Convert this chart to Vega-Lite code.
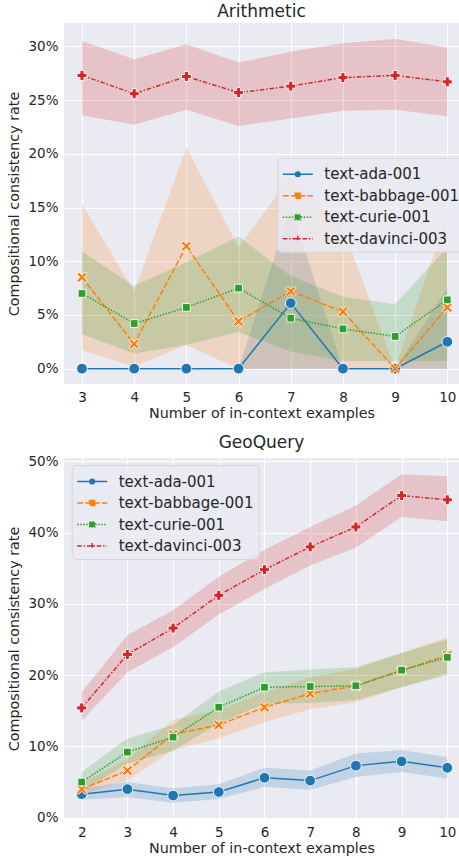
{
  "$schema": "https://vega.github.io/schema/vega-lite/v6.json",
  "padding": {"left": 7, "top": 3, "right": 0, "bottom": 0},
  "background": "white",
  "spacing": 13,
  "config": {
    "font": "DejaVu Sans",
    "view": {"fill": "#EAEAF2", "stroke": null},
    "axis": {
      "domain": false, "ticks": false, "grid": true, "gridColor": "white", "gridWidth": 1.2,
      "labelFont": "DejaVu Sans", "labelFontSize": 13.5, "labelColor": "#262626", "labelPadding": 6,
      "titleFont": "DejaVu Sans", "titleFontSize": 14.3, "titleFontWeight": "normal", "titleColor": "#262626"
    },
    "axisY": {"titlePadding": 6},
    "axisX": {"titlePadding": 3},
    "title": {"font": "DejaVu Sans", "fontSize": 17, "fontWeight": "normal", "color": "#262626", "offset": 2},
    "legend": {
      "labelFont": "DejaVu Sans", "labelFontSize": 15, "labelColor": "#262626", "labelLimit": 300,
      "padding": 5, "rowPadding": 1.5, "symbolSize": 441, "symbolOffset": 4, "labelOffset": 15,
      "fillColor": "rgba(234,234,242,0.8)", "strokeColor": "#d4d4da", "cornerRadius": 4
    }
  },
  "datasets": {
    "d": [
      {"task": "Arithmetic", "model": "text-ada-001", "n": 3, "rate": 0, "lo": 0, "hi": 0},
      {"task": "Arithmetic", "model": "text-ada-001", "n": 4, "rate": 0, "lo": 0, "hi": 0},
      {"task": "Arithmetic", "model": "text-ada-001", "n": 5, "rate": 0, "lo": 0, "hi": 0},
      {"task": "Arithmetic", "model": "text-ada-001", "n": 6, "rate": 0, "lo": 0, "hi": 0},
      {"task": "Arithmetic", "model": "text-ada-001", "n": 7, "rate": 6.1, "lo": 0, "hi": 15.1},
      {"task": "Arithmetic", "model": "text-ada-001", "n": 8, "rate": 0, "lo": 0, "hi": 0},
      {"task": "Arithmetic", "model": "text-ada-001", "n": 9, "rate": 0, "lo": 0, "hi": 0},
      {"task": "Arithmetic", "model": "text-ada-001", "n": 10, "rate": 2.5, "lo": 0, "hi": 7.5},
      {"task": "Arithmetic", "model": "text-babbage-001", "n": 3, "rate": 8.5, "lo": 1.7, "hi": 15.3},
      {"task": "Arithmetic", "model": "text-babbage-001", "n": 4, "rate": 2.3, "lo": 0.2, "hi": 7.2},
      {"task": "Arithmetic", "model": "text-babbage-001", "n": 5, "rate": 11.4, "lo": 2.2, "hi": 20.6},
      {"task": "Arithmetic", "model": "text-babbage-001", "n": 6, "rate": 4.4, "lo": 0, "hi": 11.3},
      {"task": "Arithmetic", "model": "text-babbage-001", "n": 7, "rate": 7.2, "lo": 0, "hi": 17.9},
      {"task": "Arithmetic", "model": "text-babbage-001", "n": 8, "rate": 5.3, "lo": 0, "hi": 13.1},
      {"task": "Arithmetic", "model": "text-babbage-001", "n": 9, "rate": 0, "lo": 0, "hi": 0},
      {"task": "Arithmetic", "model": "text-babbage-001", "n": 10, "rate": 5.7, "lo": 0, "hi": 14.4},
      {"task": "Arithmetic", "model": "text-curie-001", "n": 3, "rate": 7.0, "lo": 3.2, "hi": 10.9},
      {"task": "Arithmetic", "model": "text-curie-001", "n": 4, "rate": 4.2, "lo": 1.4, "hi": 7.7},
      {"task": "Arithmetic", "model": "text-curie-001", "n": 5, "rate": 5.7, "lo": 2.2, "hi": 9.9},
      {"task": "Arithmetic", "model": "text-curie-001", "n": 6, "rate": 7.5, "lo": 3.4, "hi": 12.3},
      {"task": "Arithmetic", "model": "text-curie-001", "n": 7, "rate": 4.7, "lo": 1.6, "hi": 8.6},
      {"task": "Arithmetic", "model": "text-curie-001", "n": 8, "rate": 3.7, "lo": 0.7, "hi": 6.7},
      {"task": "Arithmetic", "model": "text-curie-001", "n": 9, "rate": 3.0, "lo": 0.7, "hi": 6.0},
      {"task": "Arithmetic", "model": "text-curie-001", "n": 10, "rate": 6.4, "lo": 0.7, "hi": 11.3},
      {"task": "Arithmetic", "model": "text-davinci-003", "n": 3, "rate": 27.3, "lo": 23.6, "hi": 30.5},
      {"task": "Arithmetic", "model": "text-davinci-003", "n": 4, "rate": 25.6, "lo": 22.7, "hi": 28.8},
      {"task": "Arithmetic", "model": "text-davinci-003", "n": 5, "rate": 27.2, "lo": 24.1, "hi": 30.2},
      {"task": "Arithmetic", "model": "text-davinci-003", "n": 6, "rate": 25.7, "lo": 22.6, "hi": 28.5},
      {"task": "Arithmetic", "model": "text-davinci-003", "n": 7, "rate": 26.3, "lo": 23.3, "hi": 29.5},
      {"task": "Arithmetic", "model": "text-davinci-003", "n": 8, "rate": 27.1, "lo": 24.0, "hi": 30.3},
      {"task": "Arithmetic", "model": "text-davinci-003", "n": 9, "rate": 27.3, "lo": 24.1, "hi": 30.7},
      {"task": "Arithmetic", "model": "text-davinci-003", "n": 10, "rate": 26.7, "lo": 23.5, "hi": 29.9},
      {"task": "GeoQuery", "model": "text-ada-001", "n": 2, "rate": 3.3, "lo": 2.5, "hi": 4.1},
      {"task": "GeoQuery", "model": "text-ada-001", "n": 3, "rate": 4.0, "lo": 2.9, "hi": 5.0},
      {"task": "GeoQuery", "model": "text-ada-001", "n": 4, "rate": 3.1, "lo": 2.1, "hi": 4.1},
      {"task": "GeoQuery", "model": "text-ada-001", "n": 5, "rate": 3.6, "lo": 2.6, "hi": 4.7},
      {"task": "GeoQuery", "model": "text-ada-001", "n": 6, "rate": 5.6, "lo": 4.3, "hi": 7.0},
      {"task": "GeoQuery", "model": "text-ada-001", "n": 7, "rate": 5.2, "lo": 3.9, "hi": 6.6},
      {"task": "GeoQuery", "model": "text-ada-001", "n": 8, "rate": 7.3, "lo": 5.7, "hi": 9.0},
      {"task": "GeoQuery", "model": "text-ada-001", "n": 9, "rate": 7.9, "lo": 6.4, "hi": 9.5},
      {"task": "GeoQuery", "model": "text-ada-001", "n": 10, "rate": 7.0, "lo": 5.5, "hi": 8.5},
      {"task": "GeoQuery", "model": "text-babbage-001", "n": 2, "rate": 4.0, "lo": 3.2, "hi": 4.8},
      {"task": "GeoQuery", "model": "text-babbage-001", "n": 3, "rate": 6.6, "lo": 5.3, "hi": 8.3},
      {"task": "GeoQuery", "model": "text-babbage-001", "n": 4, "rate": 11.7, "lo": 9.5, "hi": 13.7},
      {"task": "GeoQuery", "model": "text-babbage-001", "n": 5, "rate": 13.0, "lo": 11.1, "hi": 15.1},
      {"task": "GeoQuery", "model": "text-babbage-001", "n": 6, "rate": 15.5, "lo": 13.4, "hi": 17.6},
      {"task": "GeoQuery", "model": "text-babbage-001", "n": 7, "rate": 17.4, "lo": 15.2, "hi": 19.7},
      {"task": "GeoQuery", "model": "text-babbage-001", "n": 8, "rate": 18.5, "lo": 16.2, "hi": 20.9},
      {"task": "GeoQuery", "model": "text-babbage-001", "n": 9, "rate": 20.6, "lo": 18.3, "hi": 23.1},
      {"task": "GeoQuery", "model": "text-babbage-001", "n": 10, "rate": 22.8, "lo": 20.3, "hi": 25.3},
      {"task": "GeoQuery", "model": "text-curie-001", "n": 2, "rate": 5.0, "lo": 3.6, "hi": 6.4},
      {"task": "GeoQuery", "model": "text-curie-001", "n": 3, "rate": 9.2, "lo": 7.6, "hi": 11.1},
      {"task": "GeoQuery", "model": "text-curie-001", "n": 4, "rate": 11.3, "lo": 9.4, "hi": 13.0},
      {"task": "GeoQuery", "model": "text-curie-001", "n": 5, "rate": 15.5, "lo": 13.2, "hi": 17.7},
      {"task": "GeoQuery", "model": "text-curie-001", "n": 6, "rate": 18.3, "lo": 16.0, "hi": 20.4},
      {"task": "GeoQuery", "model": "text-curie-001", "n": 7, "rate": 18.4, "lo": 16.1, "hi": 20.8},
      {"task": "GeoQuery", "model": "text-curie-001", "n": 8, "rate": 18.5, "lo": 16.5, "hi": 21.1},
      {"task": "GeoQuery", "model": "text-curie-001", "n": 9, "rate": 20.7, "lo": 18.3, "hi": 23.1},
      {"task": "GeoQuery", "model": "text-curie-001", "n": 10, "rate": 22.5, "lo": 20.0, "hi": 25.0},
      {"task": "GeoQuery", "model": "text-davinci-003", "n": 2, "rate": 15.4, "lo": 13.6, "hi": 17.6},
      {"task": "GeoQuery", "model": "text-davinci-003", "n": 3, "rate": 22.9, "lo": 20.4, "hi": 25.6},
      {"task": "GeoQuery", "model": "text-davinci-003", "n": 4, "rate": 26.6, "lo": 23.9, "hi": 29.1},
      {"task": "GeoQuery", "model": "text-davinci-003", "n": 5, "rate": 31.2, "lo": 28.5, "hi": 33.8},
      {"task": "GeoQuery", "model": "text-davinci-003", "n": 6, "rate": 34.8, "lo": 32.1, "hi": 37.6},
      {"task": "GeoQuery", "model": "text-davinci-003", "n": 7, "rate": 38.0, "lo": 35.4, "hi": 40.8},
      {"task": "GeoQuery", "model": "text-davinci-003", "n": 8, "rate": 40.8, "lo": 37.9, "hi": 43.8},
      {"task": "GeoQuery", "model": "text-davinci-003", "n": 9, "rate": 45.2, "lo": 42.2, "hi": 48.2},
      {"task": "GeoQuery", "model": "text-davinci-003", "n": 10, "rate": 44.6, "lo": 41.6, "hi": 47.9}
    ]
  },
  "resolve": {
    "scale": {"x": "independent", "y": "independent"},
    "legend": {"color": "independent"}
  },
  "vconcat": [
    {
      "title": "Arithmetic",
      "width": 395,
      "height": 361,
      "data": {"name": "d"},
      "transform": [{"filter": "datum.task === 'Arithmetic'"}],
      "encoding": {
        "x": {"field": "n", "type": "quantitative", "scale": {"domain": [2.655, 10.224], "nice": false, "zero": false},
              "axis": {"values": [3, 4, 5, 6, 7, 8, 9, 10], "title": "Number of in-context examples"}},
        "color": {"field": "model", "type": "nominal",
          "scale": {"domain": ["text-ada-001", "text-babbage-001", "text-curie-001", "text-davinci-003"], "range": ["#1f77b4", "#ff7f0e", "#2ca02c", "#d62728"]},
          "legend": {"title": null, "orient": "none", "legendX": 213.3, "legendY": 134.7, "labelFontSize": 15, "rowPadding": 1.5,
            "encode": {"symbols": {"update": {
              "shape": {"signal": "datum.value === 'text-ada-001' ? 'M-1.43,0H1.43M-0.22,0A0.22,0.22,0,1,1,0.22,0A0.22,0.22,0,1,1,-0.22,0Z' : datum.value === 'text-davinci-003' ? 'M-1.43,0H1.43M-0.29,0H0.29M0,-0.29V0.29' : 'M-1.43,0H1.43M-0.24,-0.24H0.24V0.24H-0.24Z'"},
              "strokeDash": {"signal": "datum.value === 'text-ada-001' ? [] : datum.value === 'text-babbage-001' ? [6,2.25] : datum.value === 'text-curie-001' ? [1.5,1.5] : [4.5,1.9,1.5,1.9]"},
              "stroke": {"signal": "datum.value === 'text-ada-001' ? '#1f77b4' : datum.value === 'text-babbage-001' ? '#ff7f0e' : datum.value === 'text-curie-001' ? '#2ca02c' : '#d62728'"},
              "fill": {"signal": "datum.value === 'text-ada-001' ? '#1f77b4' : datum.value === 'text-babbage-001' ? '#ff7f0e' : datum.value === 'text-curie-001' ? '#2ca02c' : '#d62728'"},
              "size": {"value": 441},
              "strokeWidth": {"value": 1.5},
              "fillOpacity": {"value": 1},
              "opacity": {"value": 1}
            }}}}
        }
      },
      "layer": [
        {"mark": {"type": "area", "fillOpacity": 0.2, "strokeWidth": 0},
         "encoding": {"y": {"field": "lo", "type": "quantitative", "scale": {"domain": [-1.43, 32.18], "nice": false, "zero": false},
                            "axis": {"values": [0, 5, 10, 15, 20, 25, 30], "labelExpr": "datum.value + '%'", "title": "Compositional consistency rate"}},
                      "y2": {"field": "hi"}}},
        {"transform": [{"filter": "datum.model === 'text-ada-001'"}],
         "mark": {"type": "line", "strokeWidth": 1.5}, "encoding": {"y": {"field": "rate", "type": "quantitative"}}},
        {"transform": [{"filter": "datum.model === 'text-ada-001'"}],
         "mark": {"type": "point", "filled": true, "opacity": 1, "stroke": "white", "strokeWidth": 0.9, "shape": "circle", "size": 115},
         "encoding": {"y": {"field": "rate", "type": "quantitative"}}},
        {"transform": [{"filter": "datum.model === 'text-babbage-001'"}],
         "mark": {"type": "line", "strokeWidth": 1.5, "strokeDash": [6, 2.25]}, "encoding": {"y": {"field": "rate", "type": "quantitative"}}},
        {"transform": [{"filter": "datum.model === 'text-babbage-001'"}],
         "mark": {"type": "point", "filled": true, "opacity": 1, "stroke": "white", "strokeWidth": 0.9, "size": 110,
                  "shape": "M-0.6,-1L0,-0.4L0.6,-1L1,-0.6L0.4,0L1,0.6L0.6,1L0,0.4L-0.6,1L-1,0.6L-0.4,0L-1,-0.6Z"},
         "encoding": {"y": {"field": "rate", "type": "quantitative"}}},
        {"transform": [{"filter": "datum.model === 'text-curie-001'"}],
         "mark": {"type": "line", "strokeWidth": 1.5, "strokeDash": [1.5, 1.5]}, "encoding": {"y": {"field": "rate", "type": "quantitative"}}},
        {"transform": [{"filter": "datum.model === 'text-curie-001'"}],
         "mark": {"type": "point", "filled": true, "opacity": 1, "stroke": "white", "strokeWidth": 0.9, "shape": "square", "size": 60},
         "encoding": {"y": {"field": "rate", "type": "quantitative"}}},
        {"transform": [{"filter": "datum.model === 'text-davinci-003'"}],
         "mark": {"type": "line", "strokeWidth": 1.5, "strokeDash": [4.5, 1.9, 1.5, 1.9]}, "encoding": {"y": {"field": "rate", "type": "quantitative"}}},
        {"transform": [{"filter": "datum.model === 'text-davinci-003'"}],
         "mark": {"type": "point", "filled": true, "opacity": 1, "stroke": "white", "strokeWidth": 0.9, "shape": "cross", "size": 100},
         "encoding": {"y": {"field": "rate", "type": "quantitative"}}}
      ]
    },
    {
      "title": "GeoQuery",
      "width": 395,
      "height": 361,
      "data": {"name": "d"},
      "transform": [{"filter": "datum.task === 'GeoQuery'"}],
      "encoding": {
        "x": {"field": "n", "type": "quantitative", "scale": {"domain": [1.613, 10.256], "nice": false, "zero": false},
              "axis": {"values": [2, 3, 4, 5, 6, 7, 8, 9, 10], "title": "Number of in-context examples"}},
        "color": {"field": "model", "type": "nominal",
          "scale": {"domain": ["text-ada-001", "text-babbage-001", "text-curie-001", "text-davinci-003"], "range": ["#1f77b4", "#ff7f0e", "#2ca02c", "#d62728"]},
          "legend": {"title": null, "orient": "none", "legendX": 7.7, "legendY": 7, "labelFontSize": 15, "rowPadding": 1.5,
            "encode": {"symbols": {"update": {
              "shape": {"signal": "datum.value === 'text-ada-001' ? 'M-1.43,0H1.43M-0.22,0A0.22,0.22,0,1,1,0.22,0A0.22,0.22,0,1,1,-0.22,0Z' : datum.value === 'text-davinci-003' ? 'M-1.43,0H1.43M-0.29,0H0.29M0,-0.29V0.29' : 'M-1.43,0H1.43M-0.24,-0.24H0.24V0.24H-0.24Z'"},
              "strokeDash": {"signal": "datum.value === 'text-ada-001' ? [] : datum.value === 'text-babbage-001' ? [6,2.25] : datum.value === 'text-curie-001' ? [1.5,1.5] : [4.5,1.9,1.5,1.9]"},
              "stroke": {"signal": "datum.value === 'text-ada-001' ? '#1f77b4' : datum.value === 'text-babbage-001' ? '#ff7f0e' : datum.value === 'text-curie-001' ? '#2ca02c' : '#d62728'"},
              "fill": {"signal": "datum.value === 'text-ada-001' ? '#1f77b4' : datum.value === 'text-babbage-001' ? '#ff7f0e' : datum.value === 'text-curie-001' ? '#2ca02c' : '#d62728'"},
              "size": {"value": 441},
              "strokeWidth": {"value": 1.5},
              "fillOpacity": {"value": 1},
              "opacity": {"value": 1}
            }}}}
        }
      },
      "layer": [
        {"mark": {"type": "area", "fillOpacity": 0.2, "strokeWidth": 0},
         "encoding": {"y": {"field": "lo", "type": "quantitative", "scale": {"domain": [-0.19, 50.47], "nice": false, "zero": false},
                            "axis": {"values": [0, 10, 20, 30, 40, 50], "labelExpr": "datum.value + '%'", "title": "Compositional consistency rate"}},
                      "y2": {"field": "hi"}}},
        {"transform": [{"filter": "datum.model === 'text-ada-001'"}],
         "mark": {"type": "line", "strokeWidth": 1.5}, "encoding": {"y": {"field": "rate", "type": "quantitative"}}},
        {"transform": [{"filter": "datum.model === 'text-ada-001'"}],
         "mark": {"type": "point", "filled": true, "opacity": 1, "stroke": "white", "strokeWidth": 0.9, "shape": "circle", "size": 115},
         "encoding": {"y": {"field": "rate", "type": "quantitative"}}},
        {"transform": [{"filter": "datum.model === 'text-babbage-001'"}],
         "mark": {"type": "line", "strokeWidth": 1.5, "strokeDash": [6, 2.25]}, "encoding": {"y": {"field": "rate", "type": "quantitative"}}},
        {"transform": [{"filter": "datum.model === 'text-babbage-001'"}],
         "mark": {"type": "point", "filled": true, "opacity": 1, "stroke": "white", "strokeWidth": 0.9, "size": 110,
                  "shape": "M-0.6,-1L0,-0.4L0.6,-1L1,-0.6L0.4,0L1,0.6L0.6,1L0,0.4L-0.6,1L-1,0.6L-0.4,0L-1,-0.6Z"},
         "encoding": {"y": {"field": "rate", "type": "quantitative"}}},
        {"transform": [{"filter": "datum.model === 'text-curie-001'"}],
         "mark": {"type": "line", "strokeWidth": 1.5, "strokeDash": [1.5, 1.5]}, "encoding": {"y": {"field": "rate", "type": "quantitative"}}},
        {"transform": [{"filter": "datum.model === 'text-curie-001'"}],
         "mark": {"type": "point", "filled": true, "opacity": 1, "stroke": "white", "strokeWidth": 0.9, "shape": "square", "size": 60},
         "encoding": {"y": {"field": "rate", "type": "quantitative"}}},
        {"transform": [{"filter": "datum.model === 'text-davinci-003'"}],
         "mark": {"type": "line", "strokeWidth": 1.5, "strokeDash": [4.5, 1.9, 1.5, 1.9]}, "encoding": {"y": {"field": "rate", "type": "quantitative"}}},
        {"transform": [{"filter": "datum.model === 'text-davinci-003'"}],
         "mark": {"type": "point", "filled": true, "opacity": 1, "stroke": "white", "strokeWidth": 0.9, "shape": "cross", "size": 100},
         "encoding": {"y": {"field": "rate", "type": "quantitative"}}}
      ]
    }
  ]
}
